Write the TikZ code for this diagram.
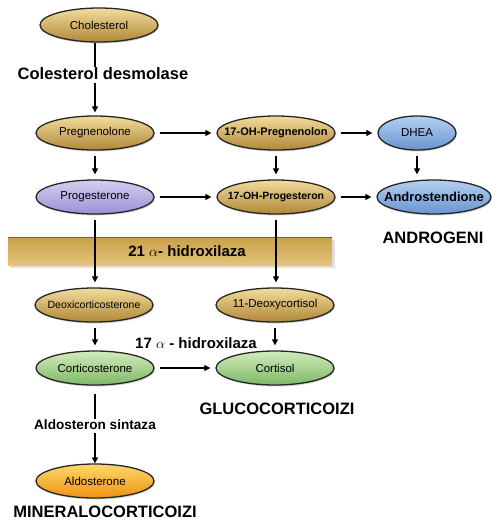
\documentclass[tikz,border=0pt]{standalone}
\usepackage{fontspec}
\setmainfont{Liberation Sans}
\usetikzlibrary{shapes.geometric,shadows,arrows.meta}

\definecolor{tanlight}{HTML}{F2DC9C}
\definecolor{tandark}{HTML}{B08838}
\definecolor{barlight}{HTML}{E4C47C}
\definecolor{bardark}{HTML}{C9A048}
\definecolor{vlight}{HTML}{D4CEF4}
\definecolor{vdark}{HTML}{9A92D2}
\definecolor{blight}{HTML}{B4D0F2}
\definecolor{bdark}{HTML}{6A94D0}
\definecolor{glight}{HTML}{D2ECBC}
\definecolor{gdark}{HTML}{7EB866}
\definecolor{olight}{HTML}{FFD86A}
\definecolor{odark}{HTML}{EE9212}

\tikzset{
  horm/.style={ellipse, draw=black!85, line width=1.3pt, minimum width=118pt,
    minimum height=34pt, inner xsep=-10pt, inner ysep=0pt, font=\fontsize{11.5}{12}\selectfont,
    drop shadow={shadow xshift=1pt, shadow yshift=-1.5pt, opacity=.35}},
  tanhorm/.style={horm, top color=tanlight, bottom color=tandark},
  violethorm/.style={horm, top color=vlight, bottom color=vdark},
  bluehorm/.style={horm, top color=blight, bottom color=bdark},
  greenhorm/.style={horm, top color=glight, bottom color=gdark},
  orangehorm/.style={horm, top color=olight, bottom color=odark},
  enzlabel/.style={font=\bfseries\fontsize{13.6}{15}\selectfont, inner sep=1pt},
  grouplabel/.style={font=\bfseries\fontsize{16.5}{18}\selectfont, inner sep=1pt},
  conn/.style={line width=1.2pt, -{Triangle[length=6pt,width=6pt]},
    shorten <=5pt, shorten >=5pt},
}

\begin{document}
\begin{tikzpicture}[x=1pt, y=-1pt]
  \useasboundingbox (0,0) rectangle (504,523);

  % 21 alpha-hidroxilaza bar
  \fill[black, opacity=.12] (10,240) rectangle (335,268);
  \shade[top color=bardark, bottom color=barlight] (8,237) rectangle (332,265);
  \draw[bardark!60!black, line width=0.8pt] (8,237.4) -- (332,237.4);
  \node[enzlabel, font=\bfseries\fontsize{15}{17}\selectfont] (enz21) at (187,251) {21 $\alpha$- hidroxilaza};

  % first column
  \node[tanhorm] (chol) at (99,25) {Cholesterol};
  \node[enzlabel, font=\bfseries\fontsize{16.5}{18}\selectfont] (desmo) at (103,74) {Colesterol desmolase};
  \node[tanhorm] (preg) at (95,133) {Pregnenolone};
  \node[violethorm] (prog) at (95,197) {Progesterone};
  \node[tanhorm, font=\fontsize{10.5}{12}\selectfont] (deoxi) at (94,305) {Deoxicorticosterone};
  \node[greenhorm] (cortico) at (95,368) {Corticosterone};
  \node[enzlabel] (aldosin) at (95,425) {Aldosteron sintaza};
  \node[orangehorm] (aldo) at (95,481) {Aldosterone};
  \node[grouplabel] (mineral) at (105,512) {MINERALOCORTICOIZI};

  % second column
  \node[tanhorm, font=\bfseries\fontsize{11}{12}\selectfont] (ohpreg) at (276,133) {17-OH-Pregnenolon};
  \node[tanhorm, font=\bfseries\fontsize{10.5}{12}\selectfont] (ohprog) at (276,197) {17-OH-Progesteron};
  \node[tanhorm] (deoxcort) at (275,305) {11-Deoxycortisol};
  \node[enzlabel, font=\bfseries\fontsize{15}{17}\selectfont] (enz17) at (196,343) {17 $\alpha$ - hidroxilaza};
  \node[greenhorm] (cortisol) at (275,368) {Cortisol};
  \node[grouplabel] (gluco) at (277,409) {GLUCOCORTICOIZI};

  % third column
  \node[bluehorm, minimum width=78pt] (dhea) at (417,133) {DHEA};
  \node[bluehorm, minimum width=114pt, font=\bfseries\fontsize{13}{14}\selectfont] (andro) at (434,197) {Androstendione};
  \node[grouplabel] (androgen) at (433,238) {ANDROGENI};

  % connectors
  \draw[line width=1.2pt] (chol.south -| preg.center) -- (desmo.north -| preg.center);
  \draw[conn, shorten <=2pt, shorten >=3pt] (desmo.south -| preg.center) -- (preg);
  \draw[conn] (preg) -- (ohpreg);
  \draw[conn] (ohpreg) -- (dhea);
  \draw[conn] (preg) -- (prog);
  \draw[conn] (ohpreg) -- (ohprog);
  \draw[conn] (dhea) -- (dhea |- andro.north);
  \draw[conn] (prog) -- (ohprog);
  \draw[conn] (ohprog) -- (andro);
  \draw[conn] (prog) -- (prog |- deoxi.north);
  \draw[conn] (ohprog) -- (ohprog |- deoxcort.north);
  \draw[conn] (deoxi.south -| cortico) -- (cortico);
  \draw[conn] (deoxcort) -- (cortisol);
  \draw[conn] (cortico) -- (cortisol);
  \draw[line width=1.2pt, shorten <=8pt] (cortico) -- (aldosin.north -| cortico);
  \draw[conn, shorten <=2pt, shorten >=0pt] (aldosin.south -| cortico) -- (aldo);
\end{tikzpicture}
\end{document}
